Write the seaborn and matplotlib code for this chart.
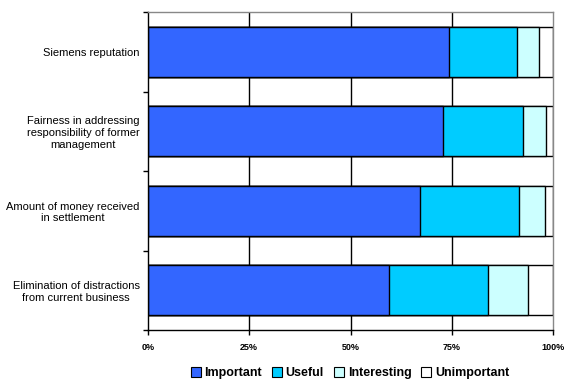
import pandas as pd
import numpy as np
import matplotlib.pyplot as plt
import seaborn as sns
from matplotlib.patches import Patch

# survey answers, share of respondents in percent
categories = ["Siemens reputation",
              "Fairness in addressing\nresponsibility of former\nmanagement",
              "Amount of money received\nin settlement",
              "Elimination of distractions\nfrom current business"]
important = [74.4, 72.9, 67.1, 59.6]
useful = [16.8, 19.8, 24.6, 24.4]
interesting = [5.4, 5.6, 6.4, 9.9]
unimportant = [3.4, 1.7, 1.9, 6.1]

levels = ["Important", "Useful", "Interesting", "Unimportant"]
colors = ["#3366ff", "#00ccff", "#ccffff", "#ffffff"]

df = pd.DataFrame({"cat": categories, "Important": important, "Useful": useful,
                   "Interesting": interesting, "Unimportant": unimportant})
# cumulative sums so the bars can be layered from the back
cum = df[levels].cumsum(axis=1)

sns.set_style("white")
plt.rcParams['font.family'] = ['Liberation Sans', 'DejaVu Sans']
plt.rcParams['text.color'] = 'black'
plt.rcParams['xtick.color'] = 'black'
plt.rcParams['ytick.color'] = 'black'

fig = plt.figure(figsize=(5.76, 3.89), dpi=100)
ax = fig.add_axes([148/576, 1-330/389, 405/576, 318/389])

for x in [25, 50, 75]:
    ax.axvline(x, color="black", lw=1, zorder=0)

for lev, col in zip(levels[::-1], colors[::-1]):
    sns.barplot(x=cum[lev], y=df["cat"], orient="h", color=col, width=0.63,
                edgecolor="black", linewidth=1, saturation=1, ax=ax, zorder=2)

ax.set_xlim(0, 100)
ax.set_ylim(3.5, -0.5)
ax.set_xlabel("")
ax.set_ylabel("")
ax.set_xticks([0, 25, 50, 75, 100])
ax.set_xticklabels(["0%", "25%", "50%", "75%", "100%"], fontsize=6.5, fontweight="bold")
ax.set_yticks(range(4))
ax.set_yticklabels(categories, fontsize=8, ha="right", multialignment="center")
ax.tick_params(axis="y", which="major", left=True, length=0, pad=6)
ax.set_yticks(np.arange(-0.5, 4, 1), minor=True)
ax.tick_params(axis="y", which="minor", left=True, length=3.5, width=1, direction="out")
ax.tick_params(axis="x", bottom=True, length=3.5, width=1, direction="out", pad=6)

for s in ["left", "bottom"]:
    ax.spines[s].set_color("black")
    ax.spines[s].set_linewidth(1)
for s in ["top", "right"]:
    ax.spines[s].set_color("#888888")
    ax.spines[s].set_linewidth(1)

handles = [Patch(facecolor=c, edgecolor="black", linewidth=0.8, label=l)
           for l, c in zip(levels, colors)]
fig.legend(handles=handles, loc="center", bbox_to_anchor=(350/576, 1-373/389),
           ncol=4, frameon=False, prop={"size": 9, "weight": "bold"},
           handlelength=0.8, handleheight=0.8, handletextpad=0.3, columnspacing=0.8)

fig.savefig("out.png", dpi=100)
